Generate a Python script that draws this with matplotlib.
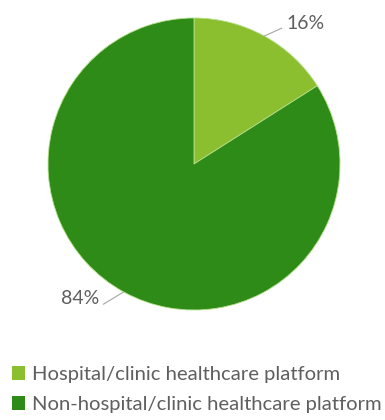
import numpy as np
import matplotlib
matplotlib.use("Agg")
import matplotlib.pyplot as plt
from matplotlib.patches import Patch

labels = ["Hospital/clinic healthcare platform", "Non-hospital/clinic healthcare platform"]
shares = [16, 84]
colors = ["#8cbf2f", "#2e8b17"]
text_color = "#5f5f5f"

plt.rcParams['font.family'] = ['Lato', 'DejaVu Sans']

fig = plt.figure(figsize=(3.85, 4.2), dpi=100)
ax = fig.add_axes([48/385, 1 - 310/420, 292/385, 292/420])
wedges, _ = ax.pie(shares, colors=colors, startangle=90, counterclock=False,
                   radius=1.0, wedgeprops=dict(edgecolor="#b5e08a", linewidth=0.6))
ax.set_xlim(-1, 1)
ax.set_ylim(-1, 1)
ax.set_aspect('equal')
ax.axis('off')

# percentage labels with leader lines
label_pos = [(0.6, 0.93, 0.63, 0.96, 'left'), (-0.62, -0.96, -0.65, -0.92, 'right')]
for w, s, (lx, ly, tx, ty, ha) in zip(wedges, shares, label_pos):
    mid = np.deg2rad((w.theta1 + w.theta2) / 2)
    ex, ey = np.cos(mid), np.sin(mid)
    ax.plot([ex, lx], [ey, ly], color="#a6a6a6", lw=0.8, clip_on=False)
    ax.text(tx, ty, f"{s}%", ha=ha, va='center', fontsize=14, color=text_color)

handles = [Patch(facecolor=c, edgecolor='none') for c in colors]
fig.legend(handles, labels, loc='upper left', bbox_to_anchor=(12/385, 1 - 366/420),
           frameon=False, fontsize=14.6, labelcolor=text_color, handlelength=0.65,
           handleheight=0.65, handletextpad=0.35, labelspacing=0.65, borderpad=0,
           borderaxespad=0)

fig.savefig("out.png", dpi=100)
